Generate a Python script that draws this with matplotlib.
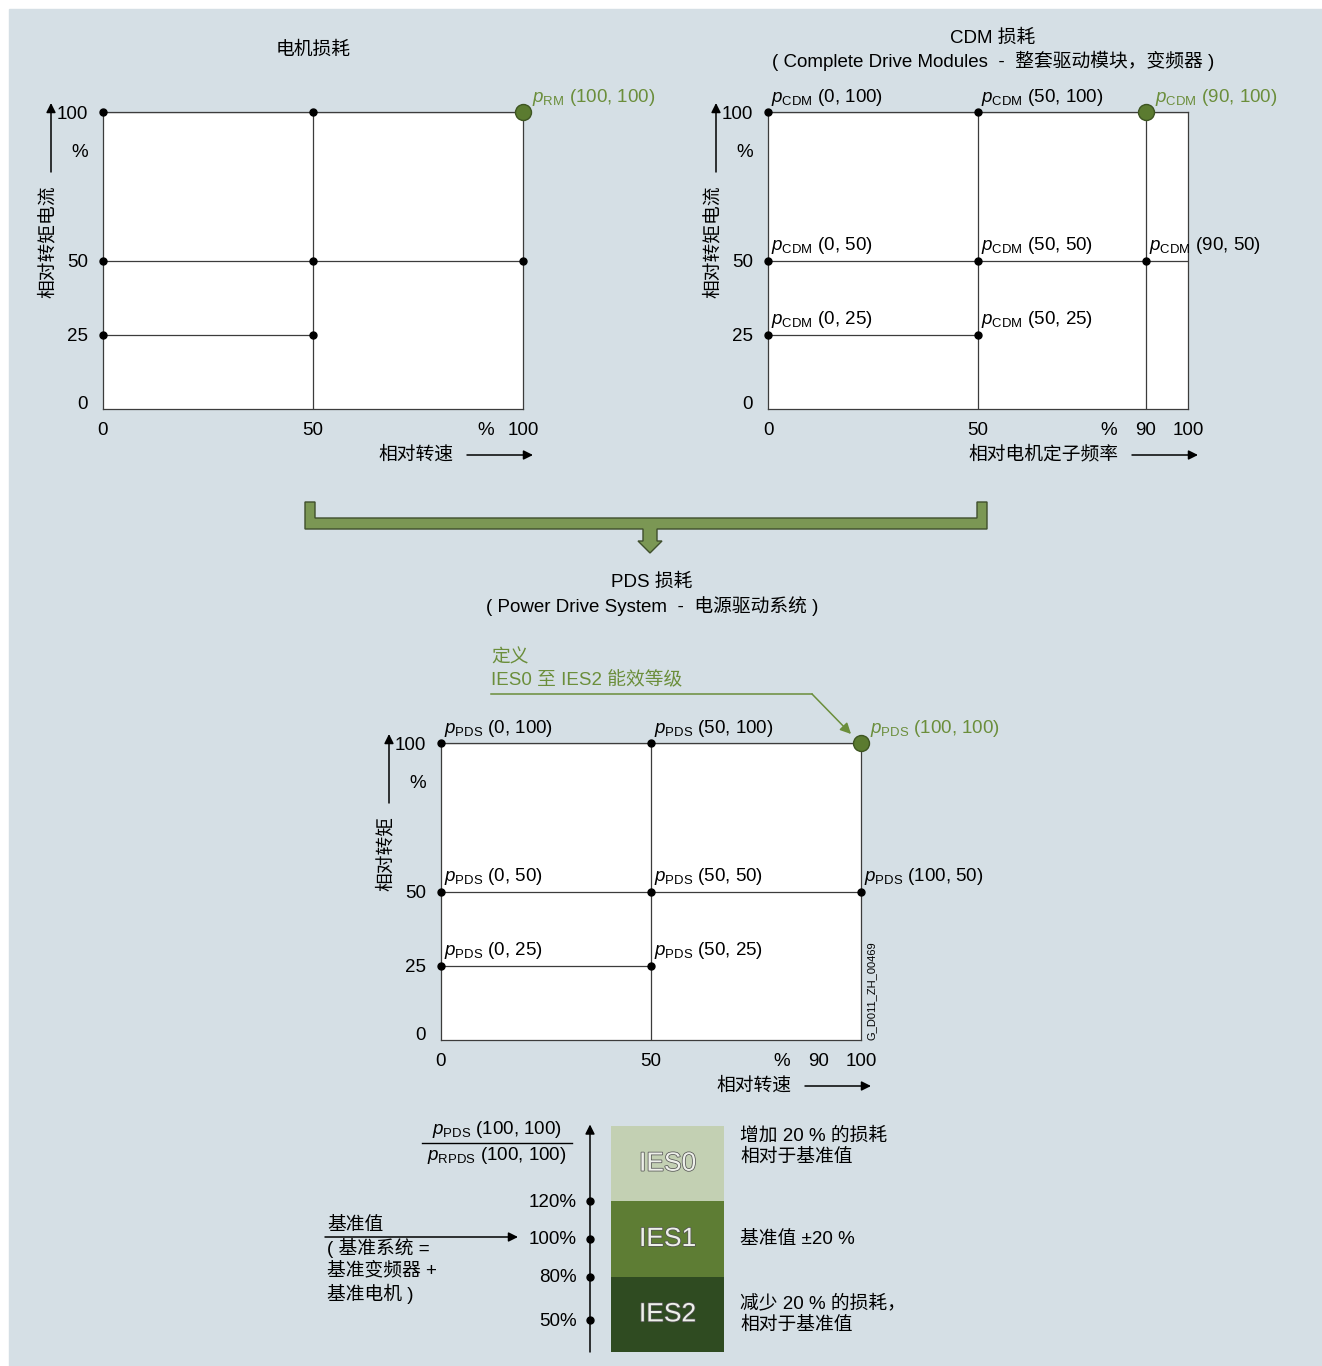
import matplotlib
matplotlib.use('Agg')
import matplotlib.pyplot as plt
import matplotlib.patheffects as pe
from matplotlib.patches import Rectangle, Polygon

plt.rcParams['font.family'] = ['Liberation Sans', 'Noto Sans CJK SC']
plt.rcParams['mathtext.fontset'] = 'custom'
plt.rcParams['mathtext.rm'] = 'Liberation Sans'
plt.rcParams['mathtext.it'] = 'Liberation Sans:italic'
plt.rcParams['font.size'] = 13.5

W, H = 1322, 1366

# motor losses (reference motor, RM)
rm_speed = [0, 50, 100, 0, 50, 100, 0, 50]
rm_torque = [100, 100, 100, 50, 50, 50, 25, 25]
rm_ref = (100, 100)
rm_xticks = [0, 50, 100]

# CDM losses
cdm_freq = [0, 50, 90, 0, 50, 90, 0, 50]
cdm_torque = [100, 100, 100, 50, 50, 50, 25, 25]
cdm_ref = (90, 100)
cdm_xticks = [0, 50, 90, 100]

# PDS losses
pds_speed = [0, 50, 100, 0, 50, 100, 0, 50]
pds_torque = [100, 100, 100, 50, 50, 50, 25, 25]
pds_ref = (100, 100)
pds_xticks = [0, 50, 90, 100]

yticks = [0, 25, 50, 100]

# IES classes, bottom to top
ies_classes = ['IES2', 'IES1', 'IES0']
ies_notes = ['减少 20 % 的损耗，\n相对于基准值', '基准值 ±20 %', '增加 20 % 的损耗\n相对于基准值']
loss_labels = ['120%', '100%', '80%', '50%']
loss_pos = [2.0, 1.5, 1.0, 0.42]  # schematic, not linear

panel_c = '#d5dfe5'
grid_c = '#3c3c3c'
green_txt = '#6b8e3b'
green_pt = '#5b7b30'
ies_colors = ['#2f4b21', '#5e7d34', '#c3d0b3']
bracket_c = '#7b9754'

fig = plt.figure(figsize=(W / 100, H / 100), dpi=100)
fig.patch.set_facecolor('white')

bg = fig.add_axes([0, 0, 1, 1])
bg.set_xlim(0, W)
bg.set_ylim(H, 0)
bg.axis('off')
bg.add_patch(Rectangle((9, 9), W - 9, H - 9, color=panel_c, zorder=0))

arrow_kw = dict(arrowstyle='-|>', color='black', lw=1.1, mutation_scale=14, shrinkA=0, shrinkB=0)


def px_axes(x0, y0, x1, y1):
    return fig.add_axes([x0 / W, 1 - y1 / H, (x1 - x0) / W, (y1 - y0) / H])


def grid_chart(box, xs, ys, ref, sub, label_all, xticks, ylabel, xlabel):
    ax = px_axes(*box)
    ax.set_xlim(0, 100)
    ax.set_ylim(0, 100)
    ax.set_xticks([])
    ax.set_yticks([])
    for s in ax.spines.values():
        s.set_color(grid_c)
        s.set_linewidth(0.9)
    for y in sorted(set(ys)):
        row = [x for x, yy in zip(xs, ys) if yy == y]
        end = 100 if max(row) >= 90 else max(row)
        ax.hlines(y, 0, end, color=grid_c, lw=0.9)
    for x in sorted(set(xs)):
        if 0 < x < 100:
            ax.vlines(x, 0, 100, color=grid_c, lw=0.9)
    pts = [(x, y) for x, y in zip(xs, ys) if (x, y) != ref]
    ax.plot([p[0] for p in pts], [p[1] for p in pts], 'o', ms=5, color='black',
            clip_on=False, zorder=5)
    ax.plot(ref[0], ref[1], 'o', ms=11.5, mfc=green_pt, mec='#3e5522', mew=1,
            clip_on=False, zorder=6)

    # point labels
    for x, y in zip(xs, ys):
        is_ref = (x, y) == ref
        if not (label_all or is_ref):
            continue
        txt = '$p_{\\mathrm{%s}}$ (%d, %d)' % (sub, x, y)
        ax.annotate(txt, (x, y), xytext=(9 if is_ref else 3, 15), textcoords='offset pixels',
                    ha='left', va='center', color=green_txt if is_ref else 'black',
                    annotation_clip=False, zorder=7)

    # tick labels
    for v in yticks:
        ax.annotate(str(v), (0, v), xytext=(-15, -4 if v == 0 else -2), textcoords='offset pixels',
                    ha='right', va='bottom' if v == 0 else 'center', annotation_clip=False)
    ax.annotate('%', (0, 87), xytext=(-15, -2), textcoords='offset pixels',
                ha='right', va='center', annotation_clip=False)
    for v in xticks:
        ax.annotate(str(v), (v, 0), xytext=(0, -13), textcoords='offset pixels',
                    ha='center', va='top', annotation_clip=False)
    ax.annotate('%', (min(t for t in xticks if t > 50), 0), xytext=(-37, -13),
                textcoords='offset pixels', ha='center', va='top', annotation_clip=False)

    # axis titles with arrows
    x0, y0, x1, y1 = box
    bg.annotate('', xy=(x0 - 52, y0 - 9), xytext=(x0 - 52, y0 + 60), arrowprops=arrow_kw)
    bg.text(x0 - 55, y0 + 73, ylabel, rotation=90, ha='center', va='top')
    bg.annotate('', xy=(x1 + 10, y1 + 46), xytext=(x1 - 56, y1 + 46), arrowprops=arrow_kw)
    bg.text(x1 - 70, y1 + 46, xlabel, ha='right', va='center')
    return ax


# top left: motor
grid_chart((103, 112, 523, 409), rm_speed, rm_torque, rm_ref, 'RM', False, rm_xticks,
           '相对转矩电流', '相对转速')
bg.text(313, 50, '电机损耗', ha='center', va='center')

# top right: CDM
grid_chart((768, 112, 1188, 409), cdm_freq, cdm_torque, cdm_ref, 'CDM', True, cdm_xticks,
           '相对转矩电流', '相对电机定子频率')
bg.text(993, 38, 'CDM 损耗', ha='center', va='center')
bg.text(993, 61, '( Complete Drive Modules  -  整套驱动模块，变频器 )', ha='center', va='center')

# connector bracket
bracket = [(305, 502), (315, 502), (315, 518), (977, 518), (977, 502), (987, 502),
           (987, 529), (657, 529), (657, 541), (662, 541), (650, 553), (638, 541),
           (643, 541), (643, 529), (305, 529)]
bg.add_patch(Polygon(bracket, closed=True, fc=bracket_c, ec='#3f4f2c', lw=1, zorder=2))

# bottom: PDS
grid_chart((441, 743, 861, 1040), pds_speed, pds_torque, pds_ref, 'PDS', True, pds_xticks,
           '相对转矩', '相对转速')
bg.text(652, 582, 'PDS 损耗', ha='center', va='center')
bg.text(652, 606, '( Power Drive System  -  电源驱动系统 )', ha='center', va='center')

# definition callout
bg.text(491, 658, '定义', color=green_txt, ha='left', va='center')
bg.text(491, 680, 'IES0 至 IES2 能效等级', color=green_txt, ha='left', va='center')
bg.plot([491, 812], [694, 694], color=green_txt, lw=1.1)
bg.annotate('', xy=(851, 734), xytext=(812, 694),
            arrowprops=dict(arrowstyle='-|>', color=green_txt, lw=1.1, mutation_scale=16,
                            shrinkA=0, shrinkB=0))
bg.text(872, 1040, 'G_D011_ZH_00469', rotation=90, fontsize=8, ha='center', va='bottom')

# IES class bar
ax = px_axes(611, 1126, 724, 1352)
ax.set_xlim(0, 1)
ax.set_ylim(0, 3)
ax.axis('off')
ax.bar([0] * 3, [1] * 3, bottom=range(3), width=1, align='edge', color=ies_colors)
for i, (name, note) in enumerate(zip(ies_classes, ies_notes)):
    ax.text(0.5, i + 0.5, name, ha='center', va='center', fontsize=19, color='#eef0ea',
            path_effects=[pe.withStroke(linewidth=1.1, foreground='#555555')])
    top = i == len(ies_classes) - 1
    ax.annotate(note, (1, i + 1 if top else i + 0.5), xytext=(16, -1 if top else 0),
                textcoords='offset pixels', ha='left', va='top' if top else 'center',
                linespacing=1.3, annotation_clip=False)

sx = -21 / 113
ax.annotate('', xy=(sx, 3.02), xytext=(sx, 0), arrowprops=arrow_kw, annotation_clip=False)
ax.plot([sx] * len(loss_pos), loss_pos, 'o', ms=5, color='black', clip_on=False)
for lab, p in zip(loss_labels, loss_pos):
    ax.annotate(lab, (sx, p), xytext=(-13, -1), textcoords='offset pixels',
                ha='right', va='center', annotation_clip=False)

# loss ratio caption
bg.text(497, 1130, '$p_{\\mathrm{PDS}}$ (100, 100)', ha='center', va='center')
bg.plot([422, 572], [1143, 1143], color='black', lw=1)
bg.text(497, 1155, '$p_{\\mathrm{RPDS}}$ (100, 100)', ha='center', va='center')

# reference value
bg.annotate('', xy=(518, 1237), xytext=(325, 1237), arrowprops=arrow_kw)
bg.text(327, 1225, '基准值', ha='left', va='center')
bg.text(327, 1271, '( 基准系统 =\n基准变频器 +\n基准电机 )', ha='left', va='center',
        linespacing=1.25)

fig.savefig('out.png', dpi=100, facecolor=fig.get_facecolor())
